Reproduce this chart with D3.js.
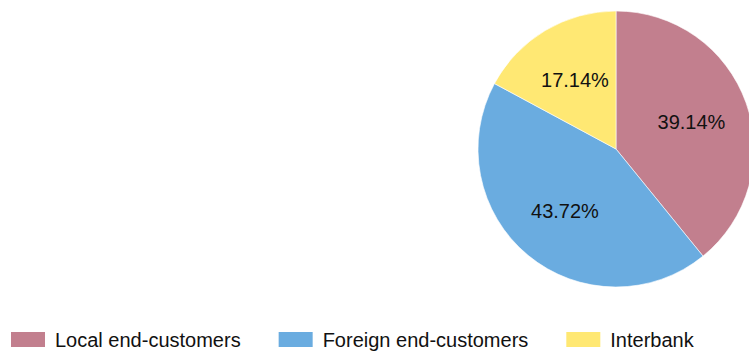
<!DOCTYPE html>
<html>
<head>
<meta charset="utf-8">
<script src="https://cdn.jsdelivr.net/npm/d3@7"></script>
<style>
  html, body { margin: 0; padding: 0; background: #fff; }
  svg { display: block; font-family: "Liberation Sans", Arial, sans-serif; }
</style>
</head>
<body>
<svg id="chart" width="749" height="352"></svg>
<script>
// Share of turnover by counterparty (%)
const categories = ["Local end-customers", "Foreign end-customers", "Interbank"];
const shares = [39.14, 43.72, 17.14];
const colors = ["#c27f8e", "#6aace0", "#ffe873"];

const width = 749, height = 352;
const cx = 616, cy = 149, radius = 138;

const svg = d3.select("#chart");

const color = d3.scaleOrdinal().domain(categories).range(colors);

const pie = d3.pie().sort(null).value(d => d.value);
const slices = pie(categories.map((c, i) => ({ name: c, value: shares[i] })));

const arc = d3.arc().innerRadius(0).outerRadius(radius);
const labelArc = d3.arc().innerRadius(radius * 0.58).outerRadius(radius * 0.58);

const g = svg.append("g").attr("transform", `translate(${cx},${cy})`);

g.selectAll("path.slice")
  .data(slices)
  .join("path")
  .attr("class", "slice")
  .attr("d", arc)
  .attr("fill", d => color(d.data.name))
  .attr("stroke", "#ffffff")
  .attr("stroke-width", 0.6);

g.selectAll("text.pct")
  .data(slices)
  .join("text")
  .attr("class", "pct")
  .attr("transform", d => {
    const [x, y] = labelArc.centroid(d);
    return `translate(${x},${y})`;
  })
  .attr("text-anchor", "middle")
  .attr("dy", "0.35em")
  .attr("font-size", 20)
  .attr("fill", "#111")
  .text(d => d.data.value.toFixed(2) + "%");

// Legend along the bottom edge
const legend = svg.append("g").attr("transform", "translate(11,332)");
let xPos = 0;
categories.forEach(name => {
  const item = legend.append("g").attr("transform", `translate(${xPos},0)`);
  item.append("rect")
    .attr("width", 34)
    .attr("height", 15)
    .attr("fill", color(name));
  const t = item.append("text")
    .attr("x", 44)
    .attr("y", 15)
    .attr("font-size", 20)
    .attr("fill", "#111")
    .text(name);
  xPos += 44 + t.node().getComputedTextLength() + 38;
});
</script>
</body>
</html>
